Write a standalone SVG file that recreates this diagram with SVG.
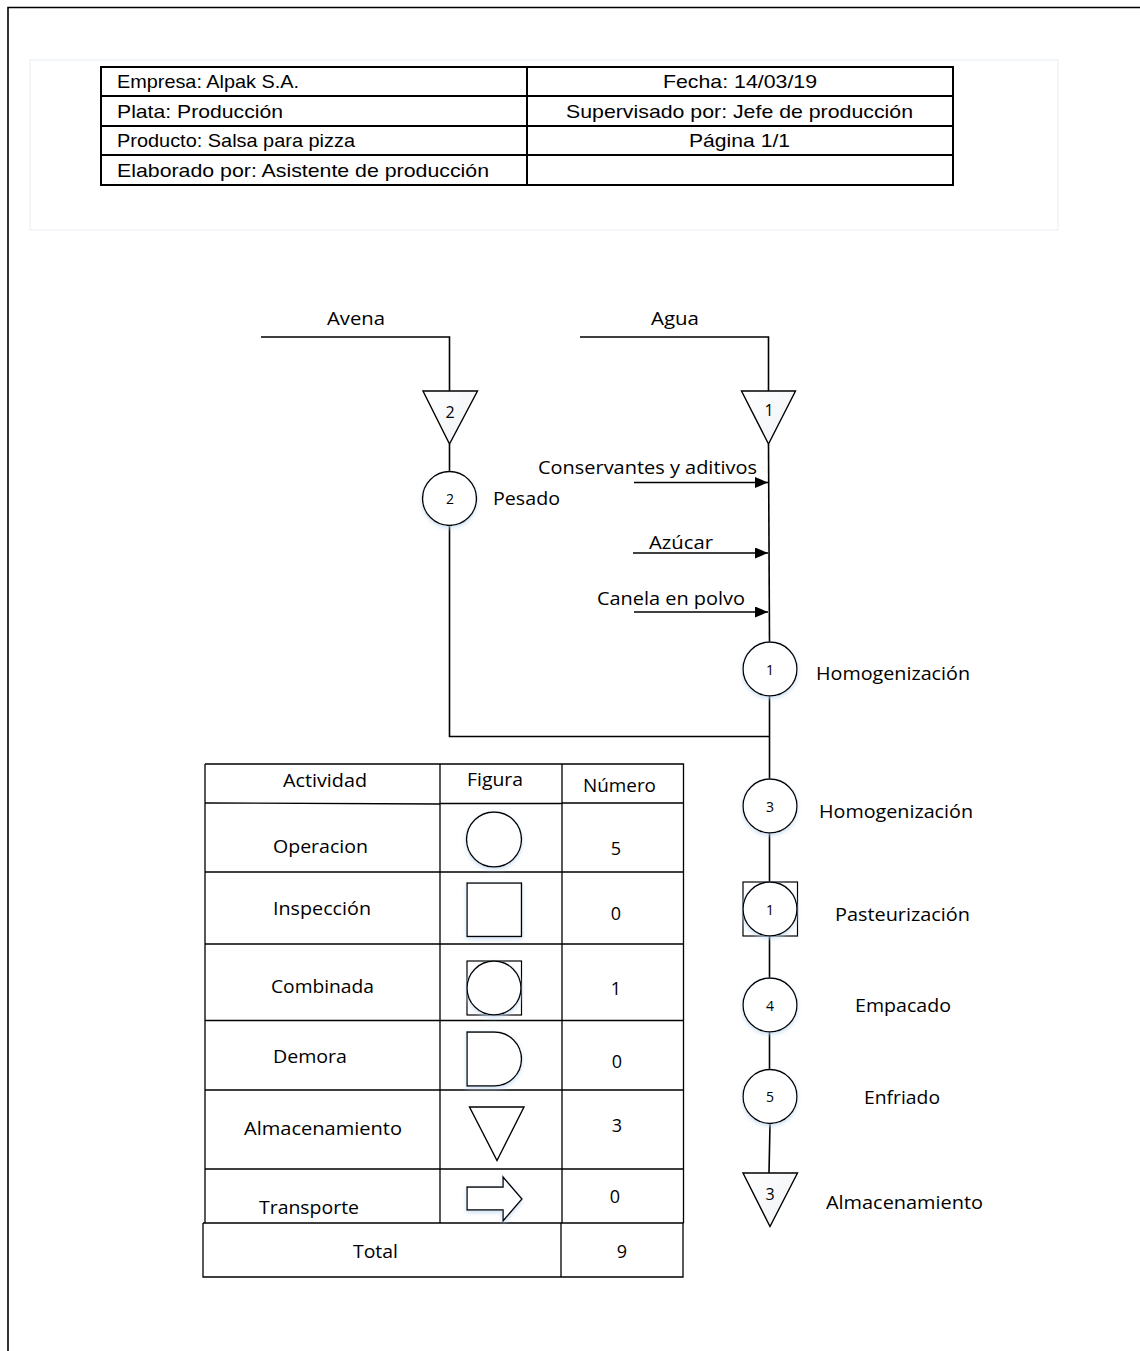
<svg xmlns="http://www.w3.org/2000/svg" width="1140" height="1351" viewBox="0 0 1140 1351">
<style>
.ln{fill:none;stroke:#000;stroke-width:1.6}
.thin{fill:none;stroke:#000;stroke-width:1.3}
.hd{fill:none;stroke:#000;stroke-width:2}
.shape{fill:#fff;stroke:#000;stroke-width:1.4}
.tri{fill:url(#tg);stroke:#000;stroke-width:1.4}
.t{font-family:"Open Sans","Liberation Sans",sans-serif;font-size:19px;fill:#000}
.tt{font-family:"Open Sans","Liberation Sans",sans-serif;font-size:18px;fill:#000}
.n{font-family:"Open Sans","Liberation Sans",sans-serif;font-size:14px;fill:#000;text-anchor:middle}
.nt{font-family:"Open Sans","Liberation Sans",sans-serif;font-size:16px;fill:#000;text-anchor:middle}
.a{font-family:"Liberation Sans",Arial,sans-serif;font-size:19px;fill:#000}
.c{text-anchor:middle}
</style>
<defs>
<linearGradient id="tg" x1="0" y1="0" x2="1" y2="1">
<stop offset="0" stop-color="#ffffff"/>
<stop offset="1" stop-color="#eef0f4"/>
</linearGradient>
<filter id="glow" x="-30%" y="-30%" width="160%" height="170%">
<feDropShadow dx="0" dy="2" stdDeviation="2" flood-color="#b9d3ee" flood-opacity="0.7"/>
</filter>
<marker id="ah" viewBox="0 0 13 11" refX="13" refY="5.5" markerWidth="13" markerHeight="11" markerUnits="userSpaceOnUse" orient="auto">
<path d="M0,0 L13,5.5 L0,11 Z" fill="#000"/>
</marker>
</defs>
<rect width="1140" height="1351" fill="#fff"/>

<!-- page border -->
<path d="M8 1351 V7.5 H1140" fill="none" stroke="#000" stroke-width="1.6"/>

<!-- header panel -->
<g id="header">
<rect x="30" y="60" width="1028" height="170" fill="none" stroke="#f0f3f8" stroke-width="1.5"/>
<rect x="101" y="67" width="852" height="118" class="hd" fill="#fff"/>
<path class="hd" d="M101 96 H953 M101 126 H953 M101 155 H953 M527 67 V185"/>
<text class="a" x="117" y="88" textLength="182" lengthAdjust="spacingAndGlyphs">Empresa: Alpak S.A.</text>
<text class="a" x="117" y="118" textLength="166" lengthAdjust="spacingAndGlyphs">Plata: Producción</text>
<text class="a" x="117" y="147" textLength="238" lengthAdjust="spacingAndGlyphs">Producto: Salsa para pizza</text>
<text class="a" x="117" y="177" textLength="372" lengthAdjust="spacingAndGlyphs">Elaborado por: Asistente de producción</text>
<text class="a" x="663" y="88" textLength="154" lengthAdjust="spacingAndGlyphs">Fecha: 14/03/19</text>
<text class="a" x="566" y="118" textLength="347" lengthAdjust="spacingAndGlyphs">Supervisado por: Jefe de producción</text>
<text class="a" x="689" y="147" textLength="101" lengthAdjust="spacingAndGlyphs">Página 1/1</text>
</g>

<!-- connectors -->
<g id="connectors">
<path class="ln" d="M261 337 H449.5 V391"/>
<path class="ln" d="M580 337 H768.5 V391"/>
<path class="ln" d="M449.5 444 V472"/>
<path class="ln" d="M449.5 525 V736.5 H769"/>
<path class="ln" d="M768.5 444 L769.5 642"/>
<path class="ln" d="M769.5 696 V779"/>
<path class="ln" d="M769.5 833 V882"/>
<path class="ln" d="M769.5 936 V978"/>
<path class="ln" d="M769.5 1032 V1069"/>
<path class="ln" d="M770 1124 L769 1173"/>
<path class="ln" d="M634 482.5 H768" marker-end="url(#ah)"/>
<path class="ln" d="M633 553 H768" marker-end="url(#ah)"/>
<path class="ln" d="M634 612 H768" marker-end="url(#ah)"/>
</g>

<!-- inputs labels -->
<g id="avena"><text class="t" x="327" y="325" textLength="58" lengthAdjust="spacingAndGlyphs">Avena</text></g>
<g id="agua"><text class="t" x="651" y="325" textLength="48" lengthAdjust="spacingAndGlyphs">Agua</text></g>
<g id="conservantes"><text class="t" x="538" y="474" textLength="219" lengthAdjust="spacingAndGlyphs">Conservantes y aditivos</text></g>
<g id="azucar"><text class="t" x="649" y="549" textLength="64" lengthAdjust="spacingAndGlyphs">Azúcar</text></g>
<g id="canela"><text class="t" x="597" y="605" textLength="148" lengthAdjust="spacingAndGlyphs">Canela en polvo</text></g>

<!-- storage 2 -->
<g id="alm2">
<path class="tri" d="M423 391 H477.5 L449.5 444 Z"/>
<text class="nt" x="450" y="418">2</text>
</g>
<!-- storage 1 -->
<g id="alm1">
<path class="tri" d="M741.5 391 H795.5 L768.5 444 Z"/>
<text class="nt" x="769" y="416">1</text>
</g>
<!-- op 2 Pesado -->
<g id="op2">
<circle class="shape" cx="449.5" cy="498.5" r="27" filter="url(#glow)"/>
<text class="n" x="450" y="504">2</text>
<text class="t" x="493" y="505" textLength="67" lengthAdjust="spacingAndGlyphs">Pesado</text>
</g>
<!-- op 1 -->
<g id="op1">
<circle class="shape" cx="770" cy="669" r="27" filter="url(#glow)"/>
<text class="n" x="770" y="675">1</text>
<text class="t" x="816" y="680" textLength="154" lengthAdjust="spacingAndGlyphs">Homogenización</text>
</g>
<!-- op 3 -->
<g id="op3">
<circle class="shape" cx="770" cy="806" r="27" filter="url(#glow)"/>
<text class="n" x="770" y="812">3</text>
<text class="t" x="819" y="818" textLength="154" lengthAdjust="spacingAndGlyphs">Homogenización</text>
</g>
<!-- combined 1 -->
<g id="comb1">
<rect x="743" y="882" width="54.5" height="54" fill="#fff" stroke="#000" stroke-width="1.2"/>
<circle class="shape" cx="770" cy="909" r="27" filter="url(#glow)"/>
<text class="n" x="770" y="915">1</text>
<text class="t" x="835" y="921" textLength="135" lengthAdjust="spacingAndGlyphs">Pasteurización</text>
</g>
<!-- op 4 -->
<g id="op4">
<circle class="shape" cx="770" cy="1005" r="27" filter="url(#glow)"/>
<text class="n" x="770" y="1011">4</text>
<text class="t" x="855" y="1012" textLength="96" lengthAdjust="spacingAndGlyphs">Empacado</text>
</g>
<!-- op 5 -->
<g id="op5">
<circle class="shape" cx="770" cy="1096.5" r="27" filter="url(#glow)"/>
<text class="n" x="770" y="1102">5</text>
<text class="t" x="864" y="1104" textLength="76" lengthAdjust="spacingAndGlyphs">Enfriado</text>
</g>
<!-- storage 3 -->
<g id="alm3">
<path class="tri" d="M743 1173 H797.5 L770 1226.5 Z"/>
<text class="nt" x="770" y="1200">3</text>
<text class="t" x="826" y="1209" textLength="157" lengthAdjust="spacingAndGlyphs">Almacenamiento</text>
</g>

<!-- summary table -->
<g id="summary">
<path class="thin" d="M205 764 H683.5 V1223 M205 764 V1223 M440 764 V1223 M562 764 V1223"/>
<path class="thin" d="M205 803 L440 804 M440 803.5 H562 M562 803 H683.5"/>
<path class="thin" d="M205 872 H683.5 M205 944 H683.5 M205 1020.5 H683.5 M205 1090 H683.5 M205 1169 H683.5 M203 1223 H683.5"/>
<path class="thin" d="M203 1223 V1277 H683 V1223 M561 1223 V1277"/>
<text class="tt" x="283" y="787" textLength="84" lengthAdjust="spacingAndGlyphs">Actividad</text>
<text class="tt" x="467" y="786" textLength="56" lengthAdjust="spacingAndGlyphs">Figura</text>
<text class="tt" x="583" y="792" textLength="73" lengthAdjust="spacingAndGlyphs">Número</text>
<text class="tt" x="273" y="853" textLength="95" lengthAdjust="spacingAndGlyphs">Operacion</text>
<text class="tt" x="273" y="915" textLength="98" lengthAdjust="spacingAndGlyphs">Inspección</text>
<text class="tt" x="271" y="993" textLength="103" lengthAdjust="spacingAndGlyphs">Combinada</text>
<text class="tt" x="273" y="1063" textLength="74" lengthAdjust="spacingAndGlyphs">Demora</text>
<text class="tt" x="244" y="1135" textLength="158" lengthAdjust="spacingAndGlyphs">Almacenamiento</text>
<text class="tt" x="259" y="1214" textLength="100" lengthAdjust="spacingAndGlyphs">Transporte</text>
<text class="tt" x="353" y="1258" textLength="45" lengthAdjust="spacingAndGlyphs">Total</text>
<text class="tt c" x="616" y="855">5</text>
<text class="tt c" x="616" y="920">0</text>
<text class="tt c" x="616" y="995">1</text>
<text class="tt c" x="617" y="1068">0</text>
<text class="tt c" x="617" y="1132">3</text>
<text class="tt c" x="615" y="1203">0</text>
<text class="tt c" x="622" y="1258">9</text>
<!-- figures -->
<circle class="shape" cx="494" cy="839.5" r="27.5" filter="url(#glow)"/>
<rect x="467" y="883" width="54.5" height="53.5" class="shape" filter="url(#glow)"/>
<rect x="467" y="961" width="54.5" height="54" fill="#fff" stroke="#000" stroke-width="1.2"/>
<circle class="shape" cx="494" cy="988" r="27" filter="url(#glow)"/>
<path class="shape" d="M467 1032 H494.5 A27 27 0 0 1 494.5 1086 H467 Z" filter="url(#glow)"/>
<path class="shape" d="M469.5 1107 H524 L497 1160.5 Z"/>
<path class="shape" d="M467 1187 H503 V1177 L522 1199 L503 1221 V1210 H467 Z" filter="url(#glow)"/>
</g>
</svg>
